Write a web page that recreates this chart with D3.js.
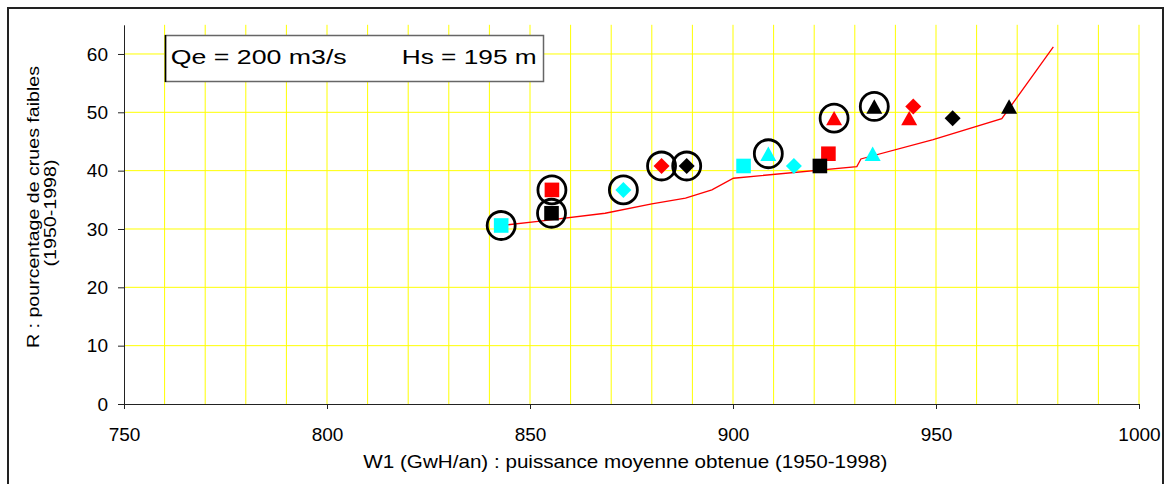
<!DOCTYPE html>
<html>
<head>
<meta charset="utf-8">
<title>R vs W1</title>
<style>
  body { margin: 0; background: #fff; }
  svg { display: block; font-family: "Liberation Sans", Arial, sans-serif; }
</style>
</head>
<body>
<svg width="1168" height="484"></svg>
<script src="https://cdn.jsdelivr.net/npm/d3@7"></script>
<script>
// values (x = W1 in GWh/an, y = R in %)
var xTicks = [750, 800, 850, 900, 950, 1000];
var yTicks = [0, 10, 20, 30, 40, 50, 60];

var cyanSquares    = [[842.9, 30.6], [902.6, 40.8]];
var redSquares     = [[855.4, 36.7], [923.5, 42.9]];
var blackSquares   = [[855.3, 32.7], [921.4, 40.8]];
var cyanDiamonds   = [[873.0, 36.7], [915.0, 40.8]];
var redDiamonds    = [[882.4, 40.8], [944.4, 51.0]];
var blackDiamonds  = [[888.6, 40.8], [954.1, 49.0]];
var cyanTriangles  = [[908.7, 42.9], [934.4, 42.9]];
var redTriangles   = [[924.9, 49.0], [943.4, 49.0]];
var blackTriangles = [[934.8, 51.0], [968.0, 51.0]];

// points that carry a ring
var circled = [[842.9, 30.6], [855.4, 36.7], [855.3, 32.7], [873.0, 36.7],
               [882.4, 40.8], [888.6, 40.8], [908.7, 42.9], [924.9, 49.0], [934.8, 51.0]];

// red front line
var frontLine = [[842.9, 30.6], [852.0, 31.3], [868.5, 32.7], [880.0, 34.3], [888.3, 35.3],
                 [894.8, 36.7], [900.1, 38.7], [930.5, 40.7], [931.5, 42.0], [949.3, 45.3],
                 [966.2, 48.9], [978.9, 61.2]];

var svg = d3.select("svg");

// outer frame of the chart
svg.append("rect")
    .attr("x", 8).attr("y", 8)
    .attr("width", 1155).attr("height", 500)
    .attr("fill", "#fff")
    .attr("stroke", "#222").attr("stroke-width", 2);

var x = d3.scaleLinear().domain([750, 1000]).range([124, 1139]);
var y = d3.scaleLinear().domain([0, 65]).range([404, 24.8]);

// yellow grid
var grid = svg.append("g").attr("stroke", "#ffff00").attr("stroke-width", 1);
grid.selectAll(".v")
    .data(x.ticks(25).filter(function(d){ return d > 750; }))
    .enter().append("line")
    .attr("x1", function(d){ return x(d); }).attr("x2", function(d){ return x(d); })
    .attr("y1", y(65)).attr("y2", y(0));
grid.selectAll(".h")
    .data(yTicks.filter(function(d){ return d > 0; }))
    .enter().append("line")
    .attr("x1", x(750)).attr("x2", x(1000))
    .attr("y1", function(d){ return y(d); }).attr("y2", function(d){ return y(d); });

// axes
var yAxis = svg.append("g")
    .attr("transform", "translate(" + x(750) + ",0)")
    .call(d3.axisLeft(y).tickValues(yTicks).tickSize(6).tickSizeOuter(0).tickPadding(10));
var xAxis = svg.append("g")
    .attr("transform", "translate(0," + y(0) + ")")
    .call(d3.axisBottom(x).tickValues(xTicks).tickFormat(d3.format("d"))
        .tickSize(5).tickSizeOuter(0).tickPadding(19));
[xAxis, yAxis].forEach(function(a){
    a.selectAll("path, line").attr("stroke", "#222");
    a.selectAll("text").attr("fill", "#000").style("font-size", "19px")
        .style("font-family", "'Liberation Sans', Arial, sans-serif");
});

// legend box
svg.append("rect")
    .attr("x", 165.5).attr("y", 35.5).attr("width", 378).attr("height", 46)
    .attr("fill", "#fff").attr("stroke", "#666").attr("stroke-width", 1.5);
svg.append("line")
    .attr("x1", 165.5).attr("x2", 165.5).attr("y1", 35).attr("y2", 82)
    .attr("stroke", "#000").attr("stroke-width", 1.5);
svg.append("text").attr("x", 170.7).attr("y", 64.3)
    .attr("font-size", 20).attr("textLength", 176).attr("lengthAdjust", "spacingAndGlyphs")
    .text("Qe = 200 m3/s");
svg.append("text").attr("x", 401.7).attr("y", 64.3)
    .attr("font-size", 20).attr("textLength", 135).attr("lengthAdjust", "spacingAndGlyphs")
    .text("Hs = 195 m");

// axis titles
svg.append("text").attr("x", 363.3).attr("y", 468.3)
    .attr("font-size", 19).attr("textLength", 524).attr("lengthAdjust", "spacingAndGlyphs")
    .text("W1 (GwH/an) : puissance moyenne obtenue (1950-1998)");
svg.append("text")
    .attr("transform", "translate(38.5,207) rotate(-90)")
    .attr("text-anchor", "middle")
    .attr("font-size", 17).attr("textLength", 282).attr("lengthAdjust", "spacingAndGlyphs")
    .text("R : pourcentage de crues faibles");
svg.append("text")
    .attr("transform", "translate(55.5,213) rotate(-90)")
    .attr("text-anchor", "middle")
    .attr("font-size", 17).attr("textLength", 107).attr("lengthAdjust", "spacingAndGlyphs")
    .text("(1950-1998)");

// front line
svg.append("path")
    .datum(frontLine)
    .attr("fill", "none")
    .attr("stroke", "#ff0000")
    .attr("stroke-width", 1.3)
    .attr("d", d3.line().x(function(d){ return x(d[0]); }).y(function(d){ return y(d[1]); }));

// marker shapes, centred on the point
var shapes = {
    square: "M-7.3,-7.3H7.3V7.3H-7.3Z",
    diamond: "M0,-8L8,0L0,8L-8,0Z",
    triangle: "M0,-7.2L8,7.2L-8,7.2Z"
};
var series = [
    {pts: cyanSquares, shape: "square", color: "#00ffff"},
    {pts: redSquares, shape: "square", color: "#ff0000"},
    {pts: blackSquares, shape: "square", color: "#000000"},
    {pts: cyanDiamonds, shape: "diamond", color: "#00ffff"},
    {pts: redDiamonds, shape: "diamond", color: "#ff0000"},
    {pts: blackDiamonds, shape: "diamond", color: "#000000"},
    {pts: cyanTriangles, shape: "triangle", color: "#00ffff"},
    {pts: redTriangles, shape: "triangle", color: "#ff0000"},
    {pts: blackTriangles, shape: "triangle", color: "#000000"}
];
series.forEach(function(s){
    svg.append("g").selectAll("path")
        .data(s.pts)
        .enter().append("path")
        .attr("d", shapes[s.shape])
        .attr("fill", s.color)
        .attr("transform", function(d){ return "translate(" + x(d[0]) + "," + y(d[1]) + ")"; });
});

// rings
svg.append("g").selectAll("circle")
    .data(circled)
    .enter().append("circle")
    .attr("cx", function(d){ return x(d[0]); })
    .attr("cy", function(d){ return y(d[1]); })
    .attr("r", 14)
    .attr("fill", "none")
    .attr("stroke", "#000")
    .attr("stroke-width", 2.8);
</script>
</body>
</html>
